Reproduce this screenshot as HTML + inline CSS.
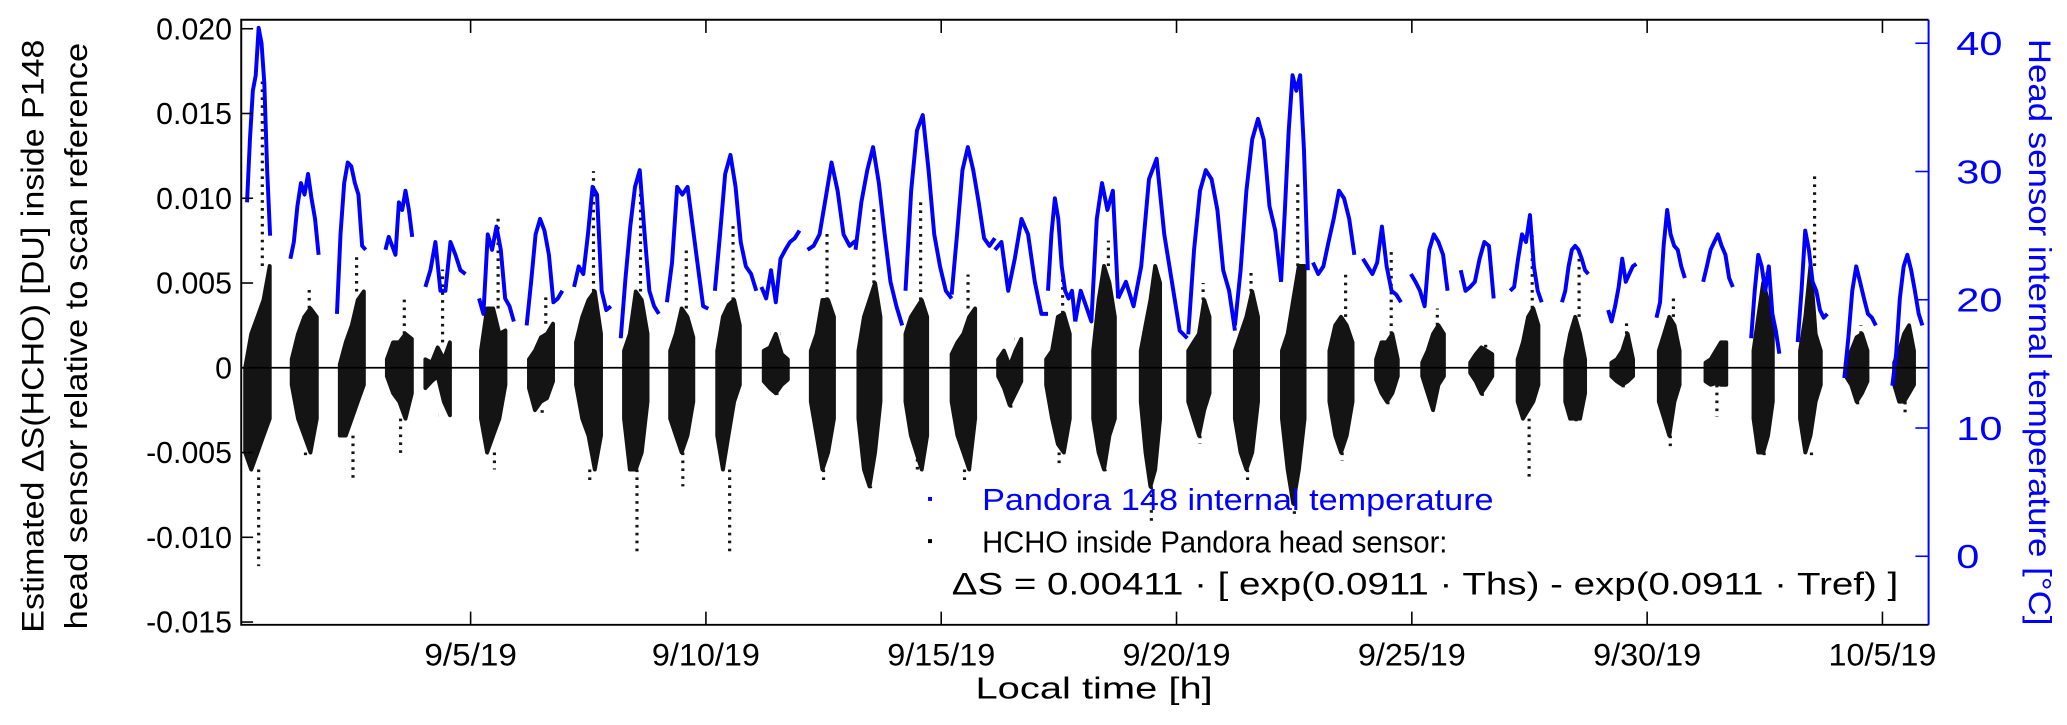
<!DOCTYPE html>
<html><head><meta charset="utf-8"><style>
html,body{margin:0;padding:0;background:#fff;}
svg{display:block;}
text{font-family:"Liberation Sans",sans-serif;}
</style></head><body>
<svg id="chart" width="2067" height="725" viewBox="0 0 1568 550" preserveAspectRatio="none" xmlns="http://www.w3.org/2000/svg">
<g id="marks"></g>
<g id="axes"></g>
<text transform="translate(33,255) rotate(-90)" text-anchor="middle" font-size="24" fill="#000" textLength="450" lengthAdjust="spacingAndGlyphs">Estimated ΔS(HCHO) [DU] inside P148</text>
<text transform="translate(66,255) rotate(-90)" text-anchor="middle" font-size="24" fill="#000" textLength="445" lengthAdjust="spacingAndGlyphs">head sensor relative to scan reference</text>
<text transform="translate(1539,252) rotate(90)" text-anchor="middle" font-size="24" fill="#0000ff" textLength="445" lengthAdjust="spacingAndGlyphs">Head sensor internal temperature [°C]</text>
<text x="830" y="530" text-anchor="middle" font-size="23" fill="#000" textLength="180" lengthAdjust="spacingAndGlyphs">Local time [h]</text>
<g>
<rect x="704" y="377" width="3" height="3" fill="#0000ff"/>
<text x="745" y="387" font-size="23" fill="#0000ff" textLength="388" lengthAdjust="spacingAndGlyphs">Pandora 148 internal temperature</text>
<rect x="704" y="409" width="3" height="3" fill="#000"/>
<text x="745" y="419" font-size="23" fill="#000" textLength="353" lengthAdjust="spacingAndGlyphs">HCHO inside Pandora head sensor:</text>
<text x="722" y="451" font-size="24" fill="#000" textLength="718" lengthAdjust="spacingAndGlyphs">ΔS = 0.00411 ·  [ exp(0.0911 · Ths) - exp(0.0911 · Tref) ]</text>
</g>
</svg>
<script>
// ---- data ----
const dateTicks = [4, 9, 14, 19, 24, 29, 34];
const dateLabels = ["9/5/19","9/10/19","9/15/19","9/20/19","9/25/19","9/30/19","10/5/19"];
const leftTicks = [0.020, 0.015, 0.010, 0.005, 0, -0.005, -0.010, -0.015];
const leftLabels = ["0.020","0.015","0.010","0.005","0","-0.005","-0.010","-0.015"];
const rightTicks = [40, 30, 20, 10, 0];
const rightLabels = ["40","30","20","10","0"];
// temperature segments: start day, end day, values evenly spaced
const tempStart = [-0.75,0.17,1.16,2.19,3.04,4.18,5.19,6.2,7.19,8.17,9.19,10.18,11.16,12.18,13.24,14.22,15.14,16.27,16.85,17.76,19.25,20.24,21.22,21.9,22.96,23.98,25.04,26.09,27.19,28.17,29.2,30.19,31.21,32.2,33.19,34.21];
const tempEnd = [-0.26,0.77,1.77,2.76,3.89,4.92,5.95,6.98,8.0,9.05,10.07,10.99,12.18,13.17,14.22,15.14,16.27,16.85,17.76,19.23,20.24,21.22,21.79,22.78,23.77,24.76,25.74,26.76,27.75,28.77,29.8,30.82,31.81,32.83,33.86,34.85];
const tempVals = [
[27.6,32.5,36.3,37.5,41.2,40,36.9,30,25],
[23.2,24.5,27.3,29.1,28.2,29.8,27.9,26.3,23.5],
[18.9,25.1,29.1,30.7,30.4,29.1,28.2,24.2,23.9],
[23.9,24.9,24.2,23.5,27.6,27,28.5,27,24.9],
[21,22.3,24.5,20.7,20.7,24.5,23.5,22.3,22],
[20.1,18.9,25.1,23.9,25.7,23.9,20.1,19.5,18.3],
[18,21.4,25.1,26.3,25.4,23.5,19.8,20.1,20.7],
[21,22.6,22,25.1,28.8,28.2,20.7,19.2,19.5],
[17,21.7,25.7,28.8,30.1,25.1,20.7,19.5,18.9],
[19.8,22.9,28.8,28.2,28.8,25.7,22.6,19.5,19.3],
[20.7,25.1,29.8,31.3,28.8,24.5,22.6,22,20.7],
[21,20.1,22.3,19.8,23.2,23.9,24.5,24.8,25.4],
[23.9,24.2,25.1,27.9,30.7,28.5,25.1,24.2,24.6],
[23.9,27.6,30.1,31.9,29.1,25.1,21.4,19.5,18],
[20.7,28.5,33.2,34.4,30.1,25.1,22.6,20.7,20.1],
[20.4,25.1,30.1,31.9,30.1,27.6,24.8,24.2,24.8],
[23.9,24.5,20.7,23.2,26.3,25.1,21.4,18.9,18.9],
[20.7,25.1,27.9,26.3,22.6,20.7,20.1,20.7,18.3],
[18.3,20.7,19.5,18.3,26.3,29.1,27,28.5,20.1],
[20.1,21.4,19.5,22.6,29.4,31,25.1,21.4,17.6,17],
[17.3,23.9,28.5,30.1,29.4,27,22.3,20.7,17.6],
[18,22.3,28.5,32.5,34.1,32.5,27.3,25.4,21.4],
[21.4,27,33.2,37.5,36.3,37.5,31.6,22.3],
[22.9,22,22.6,24.5,26.3,28.5,27.9,26.3,23.5],
[23.2,22.6,22,22.9,25.7,22.6,20.7,20.4,19.8],
[22,21.4,20.7,19.5,23.9,25.1,24.5,23.5,20.7],
[22.3,20.7,21,21.4,23.2,24.5,24.2,20.1],
[20.7,21,23.2,25.1,24.5,26.6,22.6,20.7,19.8],
[19.8,20.7,22.6,23.9,24.2,23.9,23.2,22.3,22],
[19.2,18.3,19.5,21,23.2,21.4,22,22.6,22.8],
[18.6,19.8,24.2,27,25.1,24.2,23.9,22.6,21.7],
[21.4,22.6,23.9,24.5,25.1,24.2,23.5,21.7,21],
[17,20.7,23.5,22.6,20.7,22.6,18.9,17.6,15.8],
[16.7,20.7,25.4,23.9,21.4,20.7,19.2,18.6,18.9],
[13.9,17,20.7,22.6,21.4,20.1,18.9,18.6,18],
[13.3,15.8,20.1,22.6,23.5,22.3,20.7,18.9,18]
];
// HCHO clusters: start/end day, upper and lower envelopes, outlier extremes
const hchoStart = [-0.79,0.2,1.22,2.22,3.04,4.22,5.24,6.24,7.26,8.24,9.24,10.23,11.23,12.24,13.24,14.22,15.21,16.23,17.23,18.24,19.25,20.24,21.24,22.25,23.24,24.22,25.24,26.25,27.26,28.24,29.25,30.24,31.26,32.25,33.22,34.25];
const hchoEnd = [-0.27,0.73,1.73,2.75,3.56,4.74,5.75,6.77,7.76,8.73,9.72,10.74,11.72,12.71,13.70,14.72,15.70,16.73,17.69,18.65,19.7,20.73,21.72,22.74,23.7,24.68,25.71,26.69,27.68,28.7,29.69,30.68,31.67,32.69,33.68,34.67];
const hchoHi = [
[0,0.002,0.003,0.004,0.006],[0.0005,0.002,0.003,0.0035,0.003],[0.0002,0.0015,0.0025,0.004,0.0045],[0.0005,0.0015,0.0015,0.002,0.0017],
[0.0005,0.0003,0.0012,0.0005,0.0015],[0.001,0.0035,0.0035,0.002,0.0022],[0.0005,0.001,0.0018,0.002,0.0026],[0.0015,0.003,0.004,0.0045,0.002],
[0.001,0.002,0.0045,0.004,0.002],[0.001,0.002,0.0035,0.003,0.0018],[0.001,0.003,0.0037,0.004,0.0025],[0.001,0.0012,0.002,0.0008,0.0005],
[0.001,0.002,0.004,0.004,0.003],[0.001,0.003,0.004,0.005,0.003],[0.002,0.003,0.0035,0.004,0.003],[0.0008,0.0015,0.002,0.003,0.0035],
[0.0005,0.001,0.0001,0.001,0.0017],[0.0005,0.001,0.003,0.0032,0.002],[0.001,0.004,0.006,0.005,0.003],[0.001,0.0025,0.004,0.006,0.005],
[0.001,0.0015,0.002,0.004,0.003],[0.001,0.002,0.003,0.0045,0.003],[0.001,0.002,0.004,0.006,0.006],[0.001,0.0025,0.003,0.0025,0.0015],
[0.0005,0.0015,0.0015,0.002,0.0005],[0.0003,0.001,0.002,0.0025,0.002],[0.0003,0.0008,0.0012,0.001,0.0008],[0.0005,0.0015,0.003,0.0035,0.0025],
[0.0005,0.002,0.003,0.002,0.0005],[0.0003,0.0005,0.001,0.002,0.0005],[0.001,0.002,0.003,0.0025,0.001],[0.0003,0.0005,0.001,0.0015,0.0015],
[0.001,0.003,0.005,0.004,0.003],[0.001,0.003,0.006,0.002,0.001],[0.0003,0.001,0.0018,0.002,0.001],[0.0003,0.001,0.002,0.0025,0.001]
];
const hchoLo = [
[-0.005,-0.006,-0.005,-0.004,-0.003],[-0.001,-0.003,-0.004,-0.005,-0.003],[-0.004,-0.004,-0.003,-0.002,-0.001],[-0.0005,-0.0015,-0.002,-0.003,-0.0015],
[-0.0012,-0.0008,-0.0005,-0.002,-0.0028],[-0.003,-0.005,-0.004,-0.003,-0.001],[-0.0012,-0.0025,-0.002,-0.0018,-0.0008],[-0.001,-0.003,-0.004,-0.006,-0.004],
[-0.003,-0.006,-0.006,-0.005,-0.002],[-0.003,-0.004,-0.005,-0.004,-0.002],[-0.004,-0.006,-0.004,-0.002,-0.001],[-0.0008,-0.0012,-0.0015,-0.001,-0.0007],
[-0.002,-0.004,-0.006,-0.005,-0.003],[-0.003,-0.006,-0.007,-0.005,-0.002],[-0.002,-0.004,-0.005,-0.006,-0.004],[-0.002,-0.004,-0.005,-0.006,-0.003],
[-0.0005,-0.0012,-0.0022,-0.0015,-0.0008],[-0.001,-0.003,-0.0045,-0.005,-0.003],[-0.003,-0.005,-0.006,-0.004,-0.003],[-0.002,-0.005,-0.007,-0.006,-0.003],
[-0.002,-0.003,-0.004,-0.0025,-0.0015],[-0.003,-0.005,-0.006,-0.005,-0.002],[-0.003,-0.006,-0.008,-0.006,-0.003],[-0.002,-0.004,-0.005,-0.004,-0.002],
[-0.0007,-0.0015,-0.002,-0.0015,-0.0005],[-0.0005,-0.0015,-0.0025,-0.001,-0.0005],[-0.0003,-0.0008,-0.0015,-0.001,-0.0005],[-0.002,-0.003,-0.0025,-0.002,-0.001],
[-0.002,-0.003,-0.003,-0.003,-0.0015],[-0.0005,-0.0008,-0.001,-0.0008,-0.0005],[-0.002,-0.003,-0.004,-0.002,-0.001],[-0.0008,-0.001,-0.0009,-0.001,-0.001],
[-0.003,-0.005,-0.005,-0.004,-0.002],[-0.003,-0.005,-0.004,-0.002,-0.001],[-0.0005,-0.001,-0.002,-0.0015,-0.0008],[-0.001,-0.002,-0.002,-0.0015,-0.001]
];
const hchoMax = [0.017,0.0047,0.0068,0.0041,0.0058,0.0088,0.0042,0.0116,0.0115,0.0072,0.0084,0.002,0.0082,0.0095,0.0098,0.0055,0.0017,0.0058,0.0075,0.006,0.005,0.0057,0.011,0.0058,0.0069,0.0035,0.0015,0.0078,0.0071,0.0028,0.0043,0.0015,0.0057,0.0113,0.0025,0.0024];
const hchoMin = [-0.0117,-0.0052,-0.0065,-0.0052,-0.0028,-0.006,-0.0029,-0.0069,-0.0111,-0.007,-0.011,-0.0016,-0.0068,-0.0071,-0.0053,-0.0068,-0.0024,-0.0057,-0.0061,-0.0093,-0.0045,-0.0067,-0.0087,-0.0055,-0.0022,-0.0025,-0.0018,-0.0066,-0.0033,-0.0013,-0.0048,-0.0029,-0.0052,-0.0054,-0.0024,-0.0028];

// ---- geometry ----
const PL=183, PR=1463, PT=15, PB=474;
const X = d => 357 + (d-4)*35.7;
const YL = v => 279 - v/0.005*64.3;
const YR = t => 422 - t*9.73;
const NS='http://www.w3.org/2000/svg';
const marks=document.getElementById('marks');
const axes=document.getElementById('axes');
function mk(tag, attrs, parent){const e=document.createElementNS(NS,tag);for(const k in attrs)e.setAttribute(k,attrs[k]);parent.appendChild(e);return e;}

// HCHO clusters
for(let i=0;i<hchoStart.length;i++){
  const s=hchoStart[i], e=hchoEnd[i], n=hchoHi[i].length;
  const xs=hchoHi[i].map((_,j)=>X(s+(e-s)*j/(n-1)));
  let pts=xs.map((x,j)=>x.toFixed(1)+','+YL(hchoHi[i][j]).toFixed(1));
  for(let j=n-1;j>=0;j--) pts.push(xs[j].toFixed(1)+','+YL(hchoLo[i][j]).toFixed(1));
  const p=mk('polygon',{points:pts.join(' '),fill:'#141414',stroke:'#141414','stroke-width':'3','stroke-linejoin':'round'},marks);
  
  
  const hiTop=Math.max(...hchoHi[i]), loBot=Math.min(...hchoLo[i]);
  const xo=X(s+(e-s)*0.7), xo2=X(s+(e-s)*0.55);
  const l1=mk('line',{x1:xo,x2:xo,y1:YL(hiTop),y2:YL(hchoMax[i]),stroke:'#141414','stroke-width':'2.4','stroke-dasharray':'2 4'},marks);
  
  
  const l2=mk('line',{x1:xo2,x2:xo2,y1:YL(loBot),y2:YL(hchoMin[i]),stroke:'#141414','stroke-width':'2.4','stroke-dasharray':'2 4'},marks);
  
  
}
// temperature segments
for(let i=0;i<tempStart.length;i++){
  const s=tempStart[i], e=tempEnd[i], v=tempVals[i], n=v.length;
  const pts=v.map((t,j)=>X(s+(e-s)*j/(n-1)).toFixed(1)+','+YR(t).toFixed(1)).join(' ');
  const pl=mk('polyline',{points:pts,fill:'none',stroke:'#0000ff','stroke-width':'3','stroke-linejoin':'round'},marks);
  
  
}
// zero line
const z=mk('line',{x1:PL,x2:PR,y1:YL(0),y2:YL(0),stroke:'#000','stroke-width':'1.3'},axes);


// frame
const fr=mk('path',{d:`M${PR},${PT} H${PL} V${PB} H${PR}`,fill:'none',stroke:'#000','stroke-width':'1.5'},axes);


const ra=mk('line',{x1:PR,x2:PR,y1:PT,y2:PB,stroke:'#0000ff','stroke-width':'1.5'},axes);


// left ticks
leftTicks.forEach((v,i)=>{
  const y=YL(v);
  const t=mk('line',{x1:PL,x2:PL+9,y1:y,y2:y,stroke:'#000','stroke-width':'1.2'},axes);
  
  
  const tx=mk('text',{x:PL-7,y:y+8,'text-anchor':'end','font-size':'23',fill:'#000'},axes);
  tx.textContent=leftLabels[i];
  
  
});
// right ticks
rightTicks.forEach((v,i)=>{
  const y=YR(v);
  const t=mk('line',{x1:PR-10,x2:PR,y1:y,y2:y,stroke:'#0000ff','stroke-width':'1.2'},axes);
  
  
  const tx=mk('text',{x:PR+21,y:y+9,'text-anchor':'start','font-size':'25',fill:'#0000ff',textLength:String(rightLabels[i].length*17.5),lengthAdjust:'spacingAndGlyphs'},axes);
  tx.textContent=rightLabels[i];
  
  
});
// date ticks
dateTicks.forEach((d,i)=>{
  const x=X(d);
  const t1=mk('line',{x1:x,x2:x,y1:PB,y2:PB-10,stroke:'#000','stroke-width':'1.2'},axes);
  
  
  const t2=mk('line',{x1:x,x2:x,y1:PT,y2:PT+10,stroke:'#000','stroke-width':'1.2'},axes);
  
  
  const tx=mk('text',{x:x,y:505,'text-anchor':'middle','font-size':'24',fill:'#000',textLength:String(dateLabels[i].length*11.7),lengthAdjust:'spacingAndGlyphs'},axes);
  tx.textContent=dateLabels[i];
  
  
});
</script>
</body></html>
